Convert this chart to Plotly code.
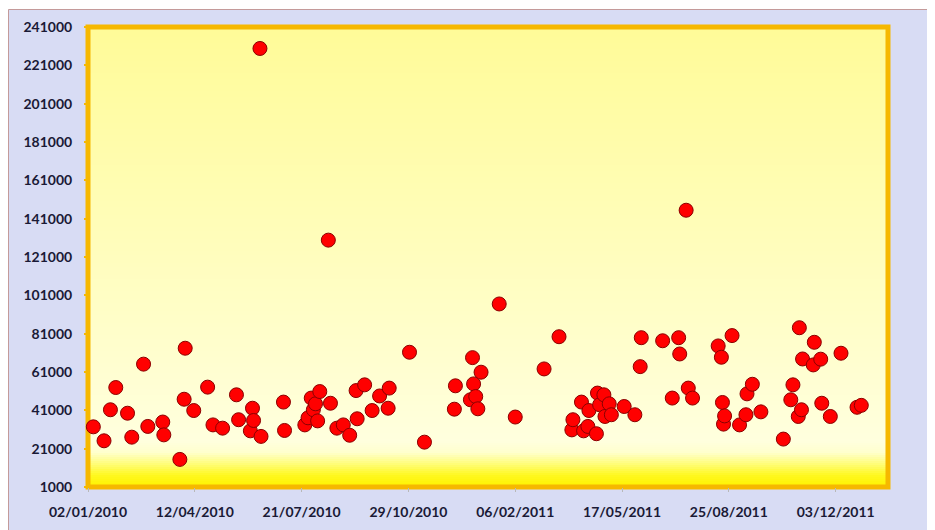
import plotly.graph_objects as go

dates = [
    "2010-01-07", "2010-01-17", "2010-01-23", "2010-01-28", "2010-02-08", "2010-02-12",
    "2010-02-23", "2010-02-27", "2010-03-13", "2010-03-14", "2010-03-29", "2010-04-02",
    "2010-04-03", "2010-04-11", "2010-04-24", "2010-04-29", "2010-05-08", "2010-05-21",
    "2010-05-23", "2010-06-03", "2010-06-05", "2010-06-06", "2010-06-12", "2010-06-13",
    "2010-07-04", "2010-07-05", "2010-07-24", "2010-07-27", "2010-07-30", "2010-08-01",
    "2010-08-03", "2010-08-05", "2010-08-07", "2010-08-15", "2010-08-17", "2010-08-23",
    "2010-08-29", "2010-09-04", "2010-09-10", "2010-09-11", "2010-09-18", "2010-09-25",
    "2010-10-02", "2010-10-10", "2010-10-11", "2010-10-30", "2010-11-13", "2010-12-11",
    "2010-12-12", "2010-12-26", "2010-12-28", "2010-12-29", "2010-12-31", "2011-01-02",
    "2011-01-05", "2011-01-22", "2011-02-06", "2011-03-05", "2011-03-19", "2011-03-31",
    "2011-04-01", "2011-04-09", "2011-04-11", "2011-04-15", "2011-04-16", "2011-04-23",
    "2011-04-24", "2011-04-26", "2011-04-30", "2011-05-01", "2011-05-05", "2011-05-07",
    "2011-05-19", "2011-05-29", "2011-06-03", "2011-06-04", "2011-06-24", "2011-07-03",
    "2011-07-09", "2011-07-10", "2011-07-16", "2011-07-18", "2011-07-22", "2011-08-15",
    "2011-08-18", "2011-08-19", "2011-08-20", "2011-08-21", "2011-08-28", "2011-09-04",
    "2011-09-10", "2011-09-11", "2011-09-16", "2011-09-24", "2011-10-15", "2011-10-22",
    "2011-10-24", "2011-10-29", "2011-10-30", "2011-11-01", "2011-11-02", "2011-11-12",
    "2011-11-13", "2011-11-19", "2011-11-20", "2011-11-28", "2011-12-08", "2011-12-23",
    "2011-12-27",
]
values = [
    32400, 25100, 41300, 52900, 39500, 27000,
    65100, 32600, 34900, 28200, 15400, 46800,
    73400, 40900, 53100, 33400, 31700, 49100,
    36100, 30300, 42100, 35700, 229800, 27400,
    45300, 30500, 33400, 37100, 47400, 41300,
    44400, 35500, 50800, 129800, 44700, 31700,
    33400, 28000, 51300, 36600, 54300, 40900,
    48500, 42100, 52600, 71300, 24400, 41600,
    53800, 46500, 68500, 54800, 48200, 41800,
    60900, 96500, 37500, 62600, 79400, 30800,
    36100, 45300, 30300, 32600, 40900, 28800,
    50000, 43900, 49100, 37800, 44400, 38700,
    43000, 38700, 63800, 78900, 77300, 47400,
    78900, 70400, 145400, 52600, 47400, 74600,
    68700, 45100, 33800, 38100, 80000, 33400,
    38700, 49600, 54600, 40200, 26000, 46500,
    54300, 37800, 84100, 41300, 67800, 64700,
    76500, 67700, 44700, 37800, 70800, 42600,
    43600,
]

x_start = "2010-01-02"
x_end = "2012-01-21"
y_min, y_max, y_step = 1000, 241000, 20000
day_ms = 86400000

# The page body adds an 8px margin, so the figure is 8px smaller than the window.
W, H = 927, 522
ml, mr, mt, mb = 80, 47, 19, 43
pw, ph = W - ml - mr, H - mt - mb


def px_x(p):
    return (p - ml) / pw


def px_y(p):
    return (H - mb - p) / ph


shapes = []
# outer chart area (lavender) with thin border
shapes.append(dict(type="rect", xref="paper", yref="paper",
                   x0=px_x(0.5), x1=px_x(W + 20), y0=px_y(H + 20), y1=px_y(1.5),
                   fillcolor="#D8DCF4", line=dict(color="#C49A9A", width=1), layer="below"))

# plot-area gradient
stops = [
    (0.00, (255, 242, 0)),
    (0.025, (255, 248, 30)),
    (0.05, (255, 253, 120)),
    (0.075, (255, 255, 205)),
    (0.10, (255, 255, 222)),
    (0.30, (255, 254, 205)),
    (0.60, (255, 253, 182)),
    (1.00, (255, 251, 152)),
]


def col_at(t):
    for (t0, c0), (t1, c1) in zip(stops[:-1], stops[1:]):
        if t0 <= t <= t1:
            f = (t - t0) / (t1 - t0) if t1 > t0 else 0
            return "rgb(%d,%d,%d)" % tuple(round(a + (b - a) * f) for a, b in zip(c0, c1))
    return "rgb(%d,%d,%d)" % stops[-1][1]


n = 230
for i in range(n):
    t0 = i / n
    t1 = (i + 1) / n
    shapes.append(dict(type="rect", xref="paper", yref="paper",
                       x0=0, x1=1, y0=t0, y1=t1 + 0.001,
                       fillcolor=col_at((t0 + t1) / 2), line=dict(width=0), layer="below"))

# gold plot-area border
shapes.append(dict(type="rect", xref="paper", yref="paper", x0=0, x1=1, y0=0, y1=1,
                   fillcolor="rgba(0,0,0,0)", line=dict(color="#F6B800", width=5), layer="below"))

fig = go.Figure()
fig.add_trace(go.Scatter(
    x=dates, y=values, mode="markers",
    marker=dict(size=14, color="#FF0000", line=dict(color="#8A0000", width=1)),
    cliponaxis=False, showlegend=False,
))

font_main = dict(family="Lato, 'Open Sans', sans-serif", size=14, color="#1A1A36", weight="bold")

fig.update_layout(
    width=W, height=H,
    margin=dict(l=ml, r=mr, t=mt, b=mb, pad=0),
    paper_bgcolor="white",
    plot_bgcolor="rgba(0,0,0,0)",
    shapes=shapes,
    font=font_main,
    xaxis=dict(
        type="date", range=[x_start, x_end],
        tick0=x_start, dtick=100 * day_ms, tickformat="%d/%m/%Y",
        showgrid=False, zeroline=False, showline=False, automargin=False,
        ticks="outside", ticklen=4, tickwidth=1, tickcolor="#B8B8B8",
        ticklabelstandoff=8, tickfont=font_main,
    ),
    yaxis=dict(
        range=[y_min, y_max], tick0=y_min, dtick=y_step, tickformat="d",
        showgrid=False, zeroline=False, showline=False, automargin=False,
        ticks="outside", ticklen=3, tickwidth=2, tickcolor="#F6B800",
        ticklabelstandoff=9, tickfont=font_main,
    ),
)

fig.write_html("out.html")
